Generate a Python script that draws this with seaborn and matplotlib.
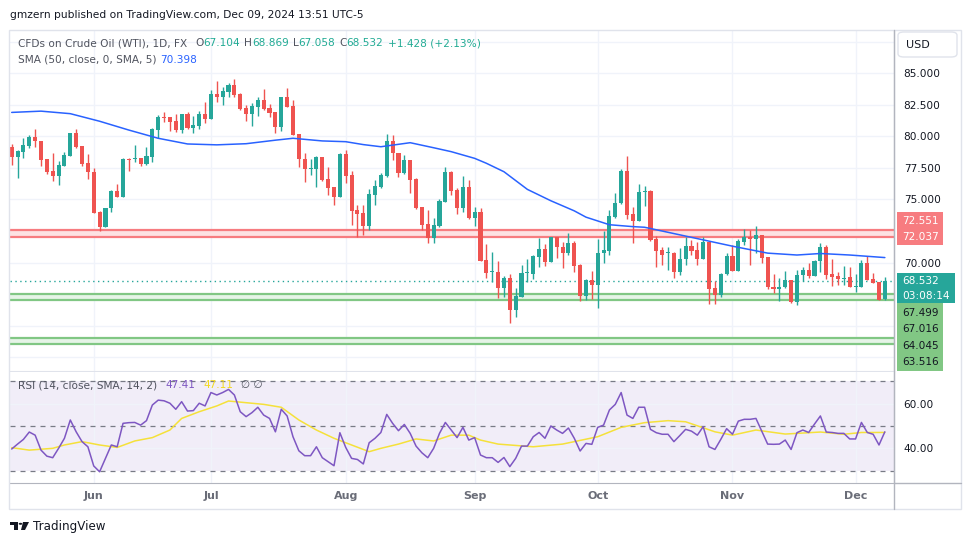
import numpy as np
import pandas as pd
import matplotlib.pyplot as plt
import matplotlib.patches as mpatches
from matplotlib.lines import Line2D
import seaborn as sns

W, H = 970, 545

# --- DATA ---
opens = [79.16, 78.39, 78.79, 79.27, 79.95, 79.64, 78.21, 77.26, 76.89, 77.68,
         78.47, 80.24, 79.24, 77.86, 77.20, 74.01, 72.85, 74.30, 75.67, 75.22,
         78.21, 78.21, 78.26, 77.84, 78.39, 80.51, 81.51, 81.51, 81.22, 80.50,
         81.77, 80.66, 80.82, 81.77, 81.40, 83.36, 83.15, 83.55, 84.07, 83.36,
         82.25, 81.77, 82.35, 82.88, 82.22, 81.93, 80.77, 83.12, 82.41, 80.19,
         78.18, 77.44, 77.44, 78.34, 76.60, 75.96, 75.22, 78.60, 76.94, 74.17,
         73.90, 72.90, 75.36, 76.02, 76.89, 79.64, 78.66, 77.13, 78.13, 76.60,
         74.38, 73.06, 71.92, 72.90, 74.83, 77.21, 75.75, 74.35, 75.99, 73.56,
         74.01, 70.21, 69.28, 69.28, 68.01, 68.78, 66.24, 67.30, 69.15, 69.10,
         70.47, 71.05, 70.07, 72.00, 71.21, 70.73, 71.58, 69.81, 67.38, 68.62,
         68.25, 70.73, 70.95, 73.64, 74.70, 77.29, 73.85, 73.32, 75.62, 75.70,
         71.84, 71.00, 70.73, 70.79, 69.26, 70.26, 71.32, 71.00, 70.31, 71.63,
         67.96, 67.43, 69.10, 70.52, 69.36, 71.66, 72.00, 71.84, 72.19, 70.42,
         68.09, 67.93, 68.04, 68.62, 66.90, 69.02, 69.41, 68.94, 70.15, 71.26,
         69.10, 68.94, 68.73, 68.83, 68.09, 68.09, 69.99, 68.67, 68.46, 67.104]
highs = [79.40, 78.90, 79.90, 80.10, 80.59, 79.64, 78.21, 78.68, 78.05, 78.74,
         80.30, 80.59, 79.24, 78.61, 77.47, 74.09, 74.35, 75.75, 76.20, 78.31,
         78.26, 79.32, 78.30, 79.16, 80.69, 81.70, 81.91, 81.55, 81.75, 81.80,
         81.93, 81.62, 82.04, 82.72, 83.68, 84.42, 83.94, 84.20, 84.55, 83.40,
         82.49, 82.62, 83.10, 83.75, 82.57, 81.95, 83.15, 83.81, 82.88, 80.20,
         78.66, 78.18, 78.45, 78.40, 77.60, 75.98, 78.65, 78.92, 77.28, 74.57,
         74.57, 75.81, 76.55, 77.13, 80.19, 80.11, 78.70, 78.53, 78.15, 76.68,
         74.40, 74.17, 73.51, 75.01, 77.55, 77.25, 75.89, 76.86, 76.55, 74.38,
         74.30, 71.47, 70.84, 70.10, 68.94, 69.10, 67.96, 69.81, 70.26, 70.60,
         71.92, 71.47, 72.06, 72.05, 71.63, 72.32, 71.74, 69.85, 68.67, 69.36,
         71.84, 72.53, 74.17, 75.54, 77.39, 78.45, 74.43, 76.23, 76.07, 75.72,
         72.11, 71.26, 71.21, 70.85, 71.13, 72.00, 71.79, 71.66, 72.06, 71.65,
         68.57, 69.20, 70.79, 71.39, 71.84, 72.64, 72.58, 72.90, 72.22, 70.45,
         69.10, 68.75, 69.36, 68.65, 69.41, 69.63, 69.99, 70.20, 71.53, 71.39,
         70.26, 69.28, 69.73, 69.68, 69.10, 70.21, 70.52, 69.20, 68.50, 68.869]
lows = [77.73, 76.73, 78.26, 79.05, 79.19, 77.68, 76.99, 76.47, 76.15, 77.68,
        78.47, 79.05, 77.68, 76.63, 73.90, 72.50, 72.85, 74.04, 75.22, 75.22,
        77.26, 77.94, 77.68, 77.73, 78.00, 79.90, 81.12, 80.43, 80.37, 80.30,
        80.56, 80.24, 80.56, 81.03, 81.40, 82.75, 82.49, 83.10, 83.10, 82.09,
        81.25, 80.82, 81.62, 82.10, 81.51, 80.24, 80.45, 82.30, 80.10, 77.60,
        76.41, 76.94, 76.02, 76.50, 75.36, 74.56, 75.20, 76.28, 72.98, 72.06,
        72.19, 72.58, 74.57, 75.89, 76.76, 78.13, 76.81, 77.02, 75.54, 74.22,
        72.58, 71.53, 71.58, 72.85, 74.80, 75.36, 73.85, 74.04, 73.43, 72.90,
        70.10, 68.81, 68.49, 67.17, 67.30, 65.24, 65.66, 67.25, 68.49, 68.67,
        69.63, 69.73, 70.05, 70.34, 69.55, 70.60, 69.28, 66.98, 67.04, 67.09,
        66.38, 69.94, 70.60, 73.51, 74.65, 73.43, 71.58, 73.30, 74.49, 71.75,
        69.68, 69.80, 69.41, 68.75, 69.02, 69.80, 70.60, 69.81, 70.25, 66.72,
        66.72, 67.30, 69.05, 69.30, 69.30, 71.39, 69.81, 70.73, 69.94, 67.88,
        67.56, 66.98, 68.00, 66.83, 66.64, 68.57, 68.75, 68.90, 69.28, 68.67,
        68.14, 68.23, 68.23, 68.05, 67.70, 68.05, 68.60, 68.38, 67.00, 67.058]
closes = [78.39, 78.84, 79.32, 79.98, 79.64, 78.16, 77.20, 76.89, 77.73, 78.53,
          80.24, 79.19, 77.84, 77.20, 73.96, 72.85, 74.30, 75.67, 75.22, 78.21,
          78.16, 78.31, 77.84, 78.47, 80.59, 81.54, 81.48, 81.17, 80.51, 81.77,
          80.64, 80.90, 81.77, 81.40, 83.36, 83.15, 83.60, 84.07, 83.28, 82.20,
          81.77, 82.41, 82.88, 82.14, 81.88, 80.77, 83.12, 82.35, 80.11, 78.18,
          77.44, 77.49, 78.34, 76.55, 75.88, 75.22, 78.60, 76.86, 74.11, 73.85,
          72.90, 75.44, 76.07, 76.94, 79.64, 78.66, 77.13, 78.13, 76.55, 74.35,
          73.01, 71.92, 72.98, 74.88, 77.21, 75.70, 74.35, 75.99, 73.56, 74.01,
          70.15, 69.20, 69.34, 68.01, 68.78, 66.24, 67.35, 69.15, 69.20, 70.52,
          71.10, 70.07, 72.00, 71.21, 70.73, 71.58, 69.73, 67.38, 68.62, 68.25,
          70.79, 71.00, 73.69, 74.75, 77.29, 73.77, 73.32, 75.62, 75.70, 71.79,
          70.95, 70.63, 70.75, 69.26, 70.31, 71.32, 70.95, 70.31, 71.66, 67.91,
          67.43, 69.10, 70.52, 69.36, 71.71, 72.00, 71.84, 72.19, 70.39, 68.04,
          67.93, 68.04, 68.62, 66.90, 69.02, 69.41, 68.94, 70.15, 71.26, 69.02,
          68.88, 68.73, 68.78, 68.09, 68.11, 69.99, 68.62, 68.41, 67.04, 68.532]

sma_idx = [0, 5, 10, 15, 20, 25, 30, 35, 40, 45, 48, 53, 57, 60, 63, 68, 72, 75,
           79, 81, 84, 88, 92, 96, 98, 102, 106, 108, 112, 118, 123, 129, 134,
           138, 143, 149]
sma_val = [81.9, 82.0, 81.8, 81.2, 80.5, 79.85, 79.4, 79.33, 79.42, 79.7, 79.85,
           79.64, 79.58, 79.35, 79.18, 79.5, 79.1, 78.79, 78.26, 77.87, 77.2,
           75.8, 74.9, 74.1, 73.6, 73.0, 72.85, 72.8, 72.4, 71.8, 71.3, 70.75,
           70.6, 70.72, 70.6, 70.398]

rsi = [39.7, 41.9, 44.0, 47.3, 45.9, 39.2, 36.5, 35.8, 40.0, 44.5,
       52.7, 47.4, 43.0, 40.7, 32.1, 29.5, 35.5, 41.5, 40.7, 51.2,
       51.5, 51.6, 50.4, 52.4, 59.4, 61.6, 61.3, 60.2, 57.5, 60.9,
       56.7, 56.9, 60.2, 59.0, 65.0, 63.9, 65.0, 66.4, 63.9, 56.4,
       54.2, 56.0, 58.4, 54.9, 53.4, 47.4, 57.5, 54.5, 45.2, 38.9,
       36.7, 36.7, 40.7, 35.8, 34.0, 32.2, 47.0, 40.4, 35.5, 35.0,
       33.0, 42.5, 44.5, 47.1, 55.2, 51.2, 47.9, 50.7, 46.7, 41.0,
       38.0, 35.8, 40.0, 46.7, 51.6, 48.2, 44.8, 49.4, 43.7, 44.8,
       37.0, 35.8, 35.8, 33.7, 35.9, 31.8, 35.5, 41.0, 41.0, 45.2,
       47.1, 44.5, 50.0, 48.2, 46.7, 49.1, 44.5, 38.8, 42.2, 41.8,
       49.4, 50.4, 57.2, 59.7, 65.0, 54.9, 53.4, 58.4, 58.4, 48.5,
       47.0, 46.3, 46.3, 43.0, 45.7, 48.5, 47.7, 45.9, 49.7, 40.7,
       39.5, 44.0, 48.8, 46.3, 52.2, 53.0, 53.0, 53.4, 47.7, 41.9,
       41.8, 41.9, 43.7, 39.5, 47.0, 48.2, 47.1, 50.9, 54.5, 47.3,
       47.1, 46.7, 46.7, 44.2, 44.2, 51.6, 47.1, 46.3, 41.5, 47.41]

rsi_ma_idx = [0, 3, 7, 9, 12, 15, 18, 21, 24, 27, 29, 32, 35, 37, 41, 43, 46, 49,
              52, 55, 58, 61, 63, 66, 69, 72, 75, 78, 80, 83, 89, 94, 100, 104,
              108, 112, 115, 120, 123, 127, 132, 138, 142, 145, 149]
rsi_ma_val = [40.3, 39.2, 40.0, 41.5, 43.0, 41.5, 40.4, 43.3, 44.8, 48.2, 53.4,
              56.4, 59.0, 61.2, 60.2, 59.7, 58.4, 52.7, 48.2, 44.5, 41.5, 38.5,
              40.0, 41.9, 44.2, 43.3, 45.9, 45.9, 43.7, 41.9, 40.7, 41.9, 45.2,
              49.4, 51.5, 52.4, 51.9, 47.4, 45.9, 48.2, 46.4, 47.3, 46.3, 47.1,
              47.11]

price_ticks = [62.5, 65.0, 67.5, 70.0, 72.5, 75.0, 77.5, 80.0, 82.5, 85.0, 87.5]
labelled_ticks = [70.0, 75.0, 77.5, 80.0, 82.5, 85.0]
red_zone = (72.037, 72.551)
green_zones = [(67.016, 67.499), (63.516, 64.045)]
last_price = 68.532

GREEN = "#26a69a"
RED = "#ef5350"

# --- FIGURE ---
sns.set_style("white")
plt.rcParams['font.family'] = ['DejaVu Sans']

fig = plt.figure(figsize=(W / 100, H / 100), dpi=100)


def fbox(x0, y0, x1, y1):
    return [x0 / W, 1 - y1 / H, (x1 - x0) / W, (y1 - y0) / H]


ax = fig.add_axes(fbox(10, 30, 894, 371))
ax_rsi = fig.add_axes(fbox(10, 372, 894, 482.7))

dates = pd.bdate_range("2024-05-14", periods=len(closes))
xs = np.arange(len(closes))
month_pos = [i for i in range(1, len(dates)) if dates[i].month != dates[i - 1].month]
month_lab = [dates[i].strftime("%b") for i in month_pos]

o = np.array(opens)
c = np.array(closes)
colors = np.where(c >= o, GREEN, RED)

# zones
for lo, hi, line_c, fill_c in [(red_zone[0], red_zone[1], "#f77c80", "#fde2e3")] + \
        [(lo, hi, "#81c784", "#e6f4e7") for lo, hi in green_zones]:
    ax.axhspan(lo, hi, color=fill_c, zorder=1, lw=0)
    ax.axhline(lo, color=line_c, lw=1.6, zorder=2)
    ax.axhline(hi, color=line_c, lw=1.6, zorder=2)
ax.axhline(last_price, color=GREEN, lw=1, ls=(0, (1, 2.5)), zorder=2)

# candles
ax.vlines(xs, lows, highs, colors=colors, lw=1, zorder=3)
ax.bar(xs, np.maximum(np.abs(c - o), 0.07), bottom=np.minimum(o, c), width=0.7,
       color=colors, lw=0, zorder=4)

sns.lineplot(x=sma_idx, y=sma_val, ax=ax, color="#2962ff", lw=1.1, zorder=5)

ax.set_xlim(-0.29, 150.56)
ax.set_ylim(61.41, 88.43)
ax.set_xticks(month_pos)
ax.set_yticks(price_ticks)
ax.set_yticklabels([f"{v:.3f}" if v in labelled_ticks else "" for v in price_ticks])
ax.yaxis.tick_right()
ax.tick_params(axis='y', length=0, pad=7, labelsize=7.6, labelcolor="#131722")
ax.tick_params(axis='x', length=0, labelbottom=False)
ax.grid(True, color="#f0f3fa", lw=1)
ax.set_axisbelow(True)
ax.set_xlabel("")
ax.set_ylabel("")
for s in ["left", "top"]:
    ax.spines[s].set_visible(False)
ax.spines["right"].set_color("#b2b5be")
ax.spines["bottom"].set_color("#e0e3eb")

# RSI pane
ax_rsi.axhspan(30, 70, color="#7e57c2", alpha=0.1, lw=0, zorder=1)
for lvl in [70, 50, 30]:
    ax_rsi.axhline(lvl, color="#787b86", lw=0.9, ls=(0, (4, 4)), zorder=2)
sns.lineplot(x=xs, y=rsi, ax=ax_rsi, color="#7e57c2", lw=1.1, zorder=4)
sns.lineplot(x=rsi_ma_idx, y=rsi_ma_val, ax=ax_rsi, color="#f5e13a", lw=1.1, zorder=3)
ax_rsi.set_xlim(-0.29, 150.56)
ax_rsi.set_ylim(24.6, 74.2)
ax_rsi.set_yticks([40, 60])
ax_rsi.set_yticklabels(["40.00", "60.00"])
ax_rsi.yaxis.tick_right()
ax_rsi.set_xticks(month_pos)
ax_rsi.set_xticklabels(month_lab)
ax_rsi.tick_params(axis='y', length=0, pad=7, labelsize=7.6, labelcolor="#131722")
ax_rsi.tick_params(axis='x', length=0, pad=6, labelsize=8, labelcolor="#6a6d78")
for lab in ax_rsi.get_xticklabels():
    lab.set_fontweight("bold")
ax_rsi.grid(True, color="#f0f3fa", lw=1)
ax_rsi.set_axisbelow('line')
ax_rsi.set_xlabel("")
ax_rsi.set_ylabel("")
for s in ["left", "top"]:
    ax_rsi.spines[s].set_visible(False)
ax_rsi.spines["right"].set_color("#b2b5be")
ax_rsi.spines["bottom"].set_color("#b2b5be")

# frame and axis lines
fig.patches.append(mpatches.Rectangle((9 / W, 1 - 509 / H), 952 / W, 479 / H,
                                      transform=fig.transFigure, fill=False,
                                      ec="#e0e3eb", lw=1))
fig.lines.append(Line2D([894 / W, 894 / W], [1 - 30 / H, 1 - 509 / H],
                        transform=fig.transFigure, color="#b2b5be", lw=1))
fig.lines.append(Line2D([894 / W, 961 / W], [1 - 482.7 / H, 1 - 482.7 / H],
                        transform=fig.transFigure, color="#b2b5be", lw=1))


def ftxt(x, y, s, **kw):
    kw.setdefault("va", "center")
    return fig.text(x / W, 1 - y / H, s, **kw)


def fpatch(x0, y0, x1, y1, fc, ec="none", rounded=False):
    if rounded:
        p = mpatches.FancyBboxPatch((x0 / W, 1 - y1 / H), (x1 - x0) / W, (y1 - y0) / H,
                                    boxstyle="round,pad=0,rounding_size=0.006",
                                    transform=fig.transFigure, fc=fc, ec=ec, lw=1)
    else:
        p = mpatches.Rectangle((x0 / W, 1 - y1 / H), (x1 - x0) / W, (y1 - y0) / H,
                               transform=fig.transFigure, fc=fc, ec=ec, lw=0)
    fig.patches.append(p)


# header
ftxt(10, 15, "gmzern published on TradingView.com, Dec 09, 2024 13:51 UTC-5",
     fontsize=7.7, color="#131722")

renderer = fig.canvas.get_renderer()


def run(x, y, parts, size=7.6, gap=4):
    for s, col in parts:
        if s == "":
            x += gap
            continue
        t = ftxt(x, y, s, fontsize=size, color=col)
        x += t.get_window_extent(renderer=renderer).width
    return x


TEAL = "#22ab94"
GRAY = "#50535e"
run(18, 43, [("CFDs on Crude Oil (WTI), 1D, FX", GRAY), ("", None), ("", None),
             ("O", GRAY), ("67.104", TEAL), ("", None), ("H", GRAY), ("68.869", TEAL),
             ("", None), ("L", GRAY), ("67.058", TEAL), ("", None), ("C", GRAY),
             ("68.532", TEAL), ("", None), ("+1.428 (+2.13%)", TEAL)])
run(18, 60, [("SMA (50, close, 0, SMA, 5)", GRAY), ("", None), ("70.398", "#2962ff")])
run(18, 385, [("RSI (14, close, SMA, 14, 2)", GRAY), ("", None), ("", None),
              ("47.41", "#7e57c2"), ("", None), ("", None), ("47.11", "#f2d91f"),
              ("", None), ("", None), ("\u2205 \u2205", GRAY)])

# USD box
fpatch(898, 32, 957, 57, "white", ec="#e0e3eb", rounded=True)
ftxt(918, 44.5, "USD", fontsize=8, color="#131722", ha="center")

# price tags
fpatch(897, 212, 943, 245, "#f77c80")
ftxt(902, 221, "72.551", fontsize=7.6, color="white")
ftxt(902, 237, "72.037", fontsize=7.6, color="white")
fpatch(897, 273, 955, 303, GREEN)
ftxt(902, 281, "68.532", fontsize=7.6, color="white")
ftxt(902, 296, "03:08:14", fontsize=7.6, color="white")
fpatch(897, 303, 943, 371, "#81c784")
for yy, s in [(313, "67.499"), (329.5, "67.016"), (346, "64.045"), (362, "63.516")]:
    ftxt(902, yy, s, fontsize=7.6, color="#131722")

# TradingView logo
fpatch(10, 522, 18, 525, "#131722")
fpatch(14, 522, 18, 530, "#131722")
fig.patches.append(mpatches.Circle((20.5 / W, 1 - 523.8 / H), 1.8 / W,
                                   transform=fig.transFigure, fc="#131722", ec="none"))
fig.patches.append(mpatches.Polygon([(23 / W, 1 - 522 / H), (29 / W, 1 - 522 / H),
                                     (25 / W, 1 - 530 / H), (21 / W, 1 - 530 / H)],
                                    closed=True, transform=fig.transFigure,
                                    fc="#131722", ec="none"))
ftxt(33, 526.5, "TradingView", fontsize=8.6, color="#131722")

fig.savefig("out.png", dpi=100, facecolor="white")
